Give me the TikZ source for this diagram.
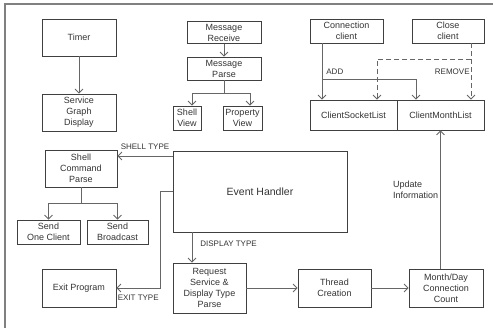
\documentclass[tikz,border=0pt]{standalone}
\usepackage{fontspec}
\setmainfont{Liberation Sans}
\usetikzlibrary{arrows.meta, positioning, calc}

\begin{document}
\begin{tikzpicture}[
    x=1pt, y=-1pt,
    font=\fontsize{9}{11}\selectfont,
    >={Straight Barb[length=4pt,width=8pt]},
    line width=0.8pt,
    block/.style={
      draw=black!75,
      align=center,
      inner sep=0.5pt,
      text=black!80,
      minimum width=74pt,
      minimum height=37pt
    },
    wire/.style={draw=black!60},
    tag/.style={font=\fontsize{8}{9}\selectfont, text=black!80, inner sep=1pt}
]
\useasboundingbox (0,0) rectangle (493,328);
\draw[black!50, line width=1.2pt] (5,332) -- (5,4) -- (497,4);

% left column
\node[block] (timer) at (79,37.5) {Timer};
\node[block] (graph) at (79,112.5) {Service\\Graph\\Display};
\node[block, minimum width=72pt] (shellparse) at (81,168.5) {Shell\\Command\\Parse};
\node[block, minimum width=63pt, minimum height=24pt] (oneclient) at (48.5,232) {Send\\One Client};
\node[block, minimum width=61pt, minimum height=24pt] (broadcast) at (117.5,232) {Send\\Broadcast};
\node[block, minimum height=38pt] (exitprog) at (79,288) {Exit Program};

% message column
\node[block, minimum height=22pt] (msgrecv) at (224,32.5) {Message\\Receive};
\node[block, minimum height=23pt] (msgparse) at (224,68.5) {Message\\Parse};
\node[block, minimum width=28pt, minimum height=24pt] (shellview) at (187,118) {Shell\\View};
\node[block, minimum width=39pt, minimum height=24pt] (propview) at (242.5,118) {Property\\View};

% client lists
\node[block, minimum width=73pt, minimum height=24pt] (connect) at (346.5,31) {Connection\\client};
\node[block, minimum width=72pt, minimum height=24pt] (close) at (448,31) {Close\\client};
\node[block, minimum width=87pt, minimum height=30pt] (socklist) at (353.5,115) {ClientSocketList};
\node[block, minimum width=87pt, minimum height=30pt] (monthlist) at (440.5,115) {ClientMonthList};

% handler and bottom row
\node[block, minimum width=174pt, minimum height=81pt, font=\fontsize{10.5}{12}\selectfont] (handler) at (260,191.5) {Event Handler};
\node[block, minimum width=73pt, minimum height=50pt] (request) at (209.5,288) {Request\\Service \&\\Display Type\\Parse};
\node[block, minimum width=73pt, minimum height=38pt] (thread) at (334.5,288) {Thread\\Creation};
\node[block, minimum height=38pt] (count) at (446,288) {Month/Day\\Connection\\Count};

% connectors
\draw[wire,->] (timer) -- (graph);
\draw[wire,->] (msgrecv) -- (msgparse);
\coordinate (mpjoin) at (224,93);
\draw[wire] (msgparse) -- (mpjoin);
\draw[wire,->] (mpjoin) -| ([xshift=5pt]shellview.north);
\draw[wire,->] (mpjoin) -| ([xshift=7.5pt]propview.north);

\coordinate (addtop) at ([xshift=-24.5pt]connect.south);
\draw[wire,->] (addtop) -- node[tag, right=3pt, pos=0.51] {ADD} (addtop |- socklist.north);
\draw[wire,->] (addtop |- 0,79) -| ([xshift=-24.5pt]monthlist.north);

\coordinate (rmtop) at ([xshift=23pt]close.south);
\draw[wire,dashed,dash pattern=on 5pt off 3pt,->] (rmtop) -- node[tag, left, pos=0.51] {REMOVE} (rmtop |- monthlist.north);
\draw[wire,dashed,dash pattern=on 5pt off 3pt,->] (rmtop |- 0,59) -| ([xshift=23.5pt]socklist.north);

\coordinate (shelltgt) at ([yshift=12.5pt]shellparse.east);
\draw[wire,->] (handler.west |- shelltgt) -- node[tag, above=5pt] {SHELL TYPE} (shelltgt);
\coordinate (spjoin) at (81,203);
\draw[wire] (shellparse) -- (spjoin);
\draw[wire,->] (spjoin) -| (oneclient.north);
\draw[wire,->] (spjoin) -| (broadcast.north);

\coordinate (exitjoin) at (160,191.5);
\draw[wire,->] (handler.west) -- (exitjoin) -- (exitjoin |- exitprog.east) -- node[tag, below=6pt] {EXIT TYPE} (exitprog.east);

\coordinate (disptgt) at ([xshift=-17.5pt]request.north);
\draw[wire,->] (disptgt |- handler.south) -- node[tag, right=7pt, pos=0.37] {DISPLAY TYPE} (disptgt);

\draw[wire,->] (request.east |- thread.west) -- (thread.west);
\draw[wire,->] (thread) -- (count);
\draw[wire,->] (count.north -| monthlist.south) -- node[left, align=left, inner xsep=2pt, pos=0.57, text=black!80] {Update\\Information} (monthlist.south);
\end{tikzpicture}
\end{document}
